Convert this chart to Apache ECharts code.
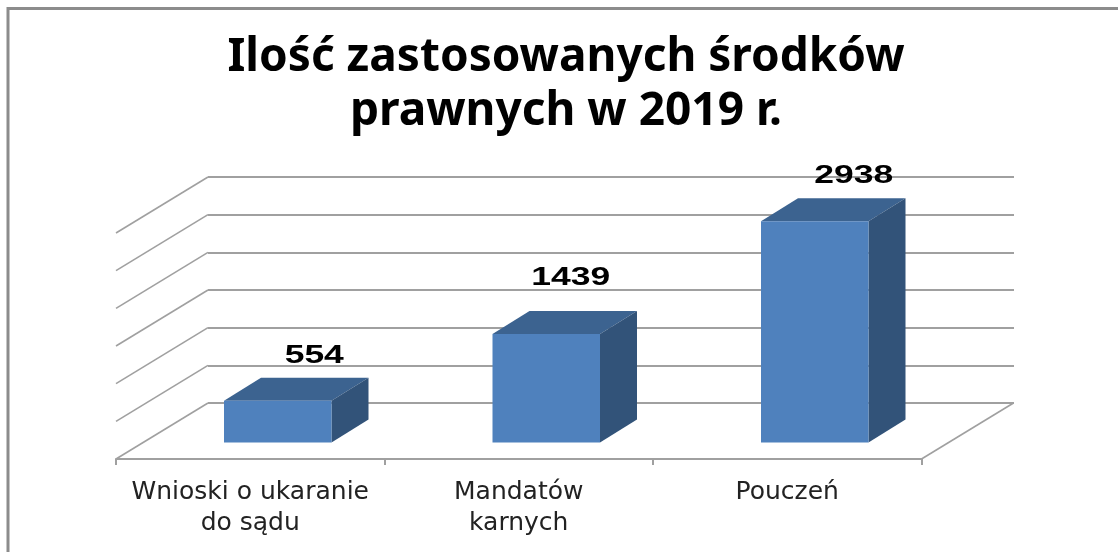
<!DOCTYPE html>
<html><head><meta charset="utf-8">
<style>html,body{margin:0;padding:0;background:#fff}#c{width:1118px;height:552px}</style>
<script src="https://cdn.jsdelivr.net/npm/echarts@6/dist/echarts.min.js"></script>
</head><body><div id="c"></div>
<script>
var titleLines = ['Ilość zastosowanych środków', 'prawnych w 2019 r.'];
var categories = ['Wnioski o ukaranie\ndo sądu', 'Mandatów\nkarnych', 'Pouczeń'];
var values = [554, 1439, 2938];
var yTicks = [0, 500, 1000, 1500, 2000, 2500, 3000];

var wallDx = 92, wallDy = -56;
var barFrontDx = 27.5, barFrontDy = -16.5;
var barDepthDx = 37, barDepthDy = -23;
var barWidth = 107.5;
var labelOffsets = [[36.5, -45], [24.5, -55.5], [39, -45.5]];
var gridColor = '#a0a0a0';

var chart = echarts.init(document.getElementById('c'));

function renderWall(params, api) {
  var half = api.size([1, 0])[0] / 2;
  var p = api.coord([0, api.value(0)]);
  var x = p[0] - half;
  return { type: 'line', silent: true,
    shape: { x1: x, y1: p[1], x2: x + wallDx, y2: p[1] + wallDy },
    style: { stroke: gridColor, lineWidth: 1.6 } };
}
function renderRightFloor(params, api) {
  var half = api.size([1, 0])[0] / 2;
  var p = api.coord([categories.length - 1, 0]);
  var x = p[0] + half;
  return { type: 'line', silent: true,
    shape: { x1: x, y1: p[1], x2: x + wallDx, y2: p[1] + wallDy },
    style: { stroke: gridColor, lineWidth: 1.6 } };
}
function renderBar(params, api) {
  var idx = api.value(0), val = api.value(1);
  var b = api.coord([idx, 0]), t = api.coord([idx, val]);
  var x0 = b[0] + barFrontDx - barWidth / 2, x1 = x0 + barWidth;
  var y0 = b[1] + barFrontDy, y1 = t[1] + barFrontDy;
  var dx = barDepthDx, dy = barDepthDy;
  var off = labelOffsets[idx];
  return { type: 'group', children: [
    { type: 'polygon', shape: { points: [[x0, y1], [x1, y1], [x1 + dx, y1 + dy], [x0 + dx, y1 + dy]] }, style: { fill: '#3c6390' } },
    { type: 'polygon', shape: { points: [[x1, y0], [x1, y1], [x1 + dx, y1 + dy], [x1 + dx, y0 + dy]] }, style: { fill: '#325379' } },
    { type: 'rect', shape: { x: x0, y: y1, width: barWidth, height: y0 - y1 }, style: { fill: '#4f81bd' } },
    { type: 'text', x: x0 + barWidth / 2 + off[0], y: y1 + off[1], scaleX: 1.42, scaleY: 1, z2: 50,
      style: { text: String(val), font: 'bold 25px "Liberation Sans"', fill: '#000', align: 'center', verticalAlign: 'middle' } }
  ] };
}

chart.setOption({
  animation: false,
  backgroundColor: '#fff',
  title: { show: true, text: titleLines.join('\n'), left: 561, top: 26, textAlign: 'center',
    textStyle: { fontFamily: 'Noto Sans', fontWeight: 'bold', fontSize: 46, lineHeight: 54, color: '#000' } },
  graphic: [{ type: 'rect', z: -10, shape: { x: 8, y: 8.5, width: 1300, height: 800 },
    style: { fill: '#fff', stroke: '#8c8c8c', lineWidth: 3 } }],
  grid: [
    { left: 208, top: 177, width: 806, height: 226 },
    { left: 116, top: 233, width: 805.5, height: 226 }
  ],
  xAxis: [
    { gridIndex: 0, type: 'category', data: categories, show: false },
    { gridIndex: 1, type: 'category', data: categories,
      axisLine: { show: true, lineStyle: { color: gridColor, width: 2 } },
      axisTick: { show: true, length: 6, alignWithLabel: false, lineStyle: { color: gridColor, width: 2 } },
      axisLabel: { interval: 0, margin: 18, fontFamily: 'DejaVu Sans', fontSize: 25, lineHeight: 31, color: '#222' } }
  ],
  yAxis: [
    { gridIndex: 0, type: 'value', min: 0, max: 3000, interval: 500,
      axisLine: { show: false }, axisTick: { show: false }, axisLabel: { show: false },
      splitLine: { show: true, lineStyle: { color: gridColor, width: 2 } } },
    { gridIndex: 1, type: 'value', min: 0, max: 3000, interval: 500,
      axisLine: { show: false }, axisTick: { show: false }, axisLabel: { show: false }, splitLine: { show: false } }
  ],
  series: [
    { type: 'custom', xAxisIndex: 1, yAxisIndex: 1, data: yTicks.map(function (v) { return [v]; }), renderItem: renderWall, encode: { y: 0 }, z: 1, clip: false },
    { type: 'custom', xAxisIndex: 1, yAxisIndex: 1, data: [[0]], renderItem: renderRightFloor, encode: { y: 0 }, z: 1, clip: false },
    { type: 'custom', xAxisIndex: 1, yAxisIndex: 1, data: values.map(function (v, i) { return [i, v]; }), renderItem: renderBar, encode: { x: 0, y: 1 }, z: 5, clip: false }
  ]
});
</script></body></html>
